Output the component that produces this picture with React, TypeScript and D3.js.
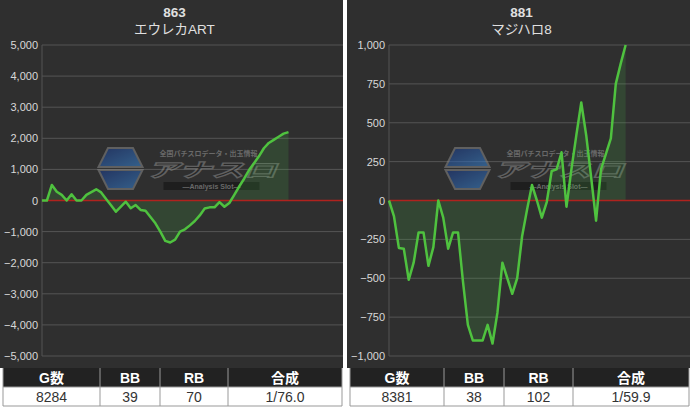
import React from "react";
import * as d3 from "d3";

const W = 690;
const H = 409;

const leftTitleNo = "863";
const leftTitleName = "エウレカART";
const rightTitleNo = "881";
const rightTitleName = "マジハロ8";

const leftTicks = [5000, 4000, 3000, 2000, 1000, 0, -1000, -2000, -3000, -4000, -5000];
const rightTicks = [1000, 750, 500, 250, 0, -250, -500, -750, -1000];

const leftValues = [
  0, 0, 500, 280, 180, 0, 200, 0, 0, 180, 270, 360, 260, 50, -150, -360, -200, -40, -250, -145,
  -305, -330, -530, -735, -1000, -1300, -1350, -1260, -1000, -926, -800, -660, -480, -260, -220,
  -220, -50, -200, -80, 180, 450, 700, 980, 1200, 1420, 1680, 1850, 1950, 2050, 2150, 2200,
];

const rightValues = [
  0, -100, -305, -310, -510, -400, -205, -205, -420, -300, 0, -110, -310, -205, -205, -520, -800,
  -900, -900, -900, -800, -920, -720, -400, -500, -600, -500, -230, -60, 100, 0, -110, -10, 190,
  200, 310, -40, 200, 420, 630, 420, 150, -130, 200, 300, 400, 750, 880, 1000,
];

const tableHeaders = ["G数", "BB", "RB", "合成"];
const leftStats = ["8284", "39", "70", "1/76.0"];
const rightStats = ["8381", "38", "102", "1/59.9"];

const FONT = "'Liberation Sans', Arial, 'Noto Sans CJK JP', sans-serif";
const BG = "#2f2f2f";

const fmt = d3.format(",");

type PanelProps = {
  x0: number;
  x1: number;
  titleNo: string;
  titleName: string;
  ticks: number[];
  values: number[];
  stats: string[];
  colSplits: number[];
  gid: string;
};

function Logo({ cx, cy, gid }: { cx: number; cy: number; gid: string }) {
  const hx = cx - 98;
  const hex = (x: number, y: number, w: number, h: number) =>
    `M${x + h * 0.5},${y} L${x + w - h * 0.5},${y} L${x + w},${y + h} L${x},${y + h} Z`;
  return (
    <g opacity={0.55}>
      <defs>
        <linearGradient id={gid} x1="0" y1="0" x2="1" y2="1">
          <stop offset="0" stopColor="#1a3a8a" />
          <stop offset="1" stopColor="#3a8ad8" />
        </linearGradient>
      </defs>
      <path d={hex(hx, cy - 21, 44, 19)} fill={`url(#${gid})`} stroke="#888" strokeWidth={2} />
      <path
        d={`M${hx},${cy + 1} L${hx + 44},${cy + 1} L${hx + 34.5},${cy + 20} L${hx + 9.5},${cy + 20} Z`}
        fill={`url(#${gid})`}
        stroke="#888"
        strokeWidth={2}
      />
      <text x={cx + 12} y={cy - 13} fontSize={7} fill="#999" fontFamily={FONT} textAnchor="middle" fontWeight="bold">
        全国パチスロデータ・出玉情報
      </text>
      <text
        x={cx - 50}
        y={cy + 8}
        fontSize={19}
        fill="#222"
        stroke="#888"
        strokeWidth={1.2}
        fontFamily={FONT}
        fontStyle="italic"
        fontWeight="bold"
        textLength={130}
        lengthAdjust="spacingAndGlyphs"
      >
        アナスロ
      </text>
      <rect x={cx - 33} y={cy + 13} width={96} height={8} fill="#111" />
      <text x={cx + 15} y={cy + 20} fontSize={7} fill="#999" fontFamily={FONT} textAnchor="middle" fontWeight="bold">
        —Analysis Slot—
      </text>
    </g>
  );
}

function Panel({ x0, x1, titleNo, titleName, ticks, values, stats, colSplits, gid }: PanelProps) {
  const plotL = x0 + 42;
  const plotR = x1;
  const top = 45;
  const bottom = 356;
  const yMax = d3.max(ticks) as number;
  const yMin = d3.min(ticks) as number;
  const y = d3.scaleLinear().domain([yMin, yMax]).range([bottom, top]);
  const x = d3.scaleLinear().domain([0, (plotR - plotL) / 4.93]).range([plotL, plotR]);
  const pts = values.map((v, i) => [i, v] as [number, number]);
  const line = d3
    .line<[number, number]>()
    .x((d) => x(d[0]))
    .y((d) => y(d[1]));
  const area = d3
    .area<[number, number]>()
    .x((d) => x(d[0]))
    .y0(y(0))
    .y1((d) => y(d[1]));

  const tTop = 368;
  const tMid = 387;
  const tBot = 406;
  const cols = [x0 + 3, ...colSplits, x1 - 1];

  return (
    <g>
      <rect x={x0} y={0} width={x1 - x0} height={tTop} fill={BG} />
      <text x={(x0 + x1) / 2 + 3} y={17} fill="#e0e0e0" fontSize={13.5} fontWeight="bold" textAnchor="middle" fontFamily={FONT}>
        {titleNo}
      </text>
      <text x={(x0 + x1) / 2 + 3} y={34} fill="#e0e0e0" fontSize={13.5} textAnchor="middle" fontFamily={FONT}>
        {titleName}
      </text>
      {ticks.map((t) => (
        <g key={t}>
          <line x1={plotL} x2={plotR} y1={y(t)} y2={y(t)} stroke="#555" strokeWidth={1} />
          <text
            x={plotL - 4}
            y={y(t) + 4}
            fill="#d8d8d8"
            fontSize={11}
            textAnchor="end"
            fontFamily={FONT}
          >
            {fmt(t)}
          </text>
        </g>
      ))}
      <line x1={plotL} x2={plotL} y1={top} y2={bottom} stroke="#555" strokeWidth={1} />
      <Logo cx={(x0 + x1) / 2 + 25} cy={169} gid={gid} />
      <path d={area(pts) || ""} fill="rgba(70,180,70,0.18)" />
      <line x1={plotL} x2={plotR} y1={y(0)} y2={y(0)} stroke="#b0221e" strokeWidth={1.5} />
      <path d={line(pts) || ""} fill="none" stroke="#4fc23f" strokeWidth={2.5} strokeLinejoin="round" />
      <rect x={cols[0]} y={tTop} width={cols[cols.length - 1] - cols[0]} height={tMid - tTop} fill="#222" />
      <rect x={cols[0]} y={tMid} width={cols[cols.length - 1] - cols[0]} height={tBot - tMid} fill="#fff" />
      {tableHeaders.map((h, i) => (
        <text
          key={h}
          x={(cols[i] + cols[i + 1]) / 2}
          y={tMid - 4}
          fill="#fff"
          fontSize={14}
          fontWeight="bold"
          textAnchor="middle"
          fontFamily={FONT}
        >
          {h}
        </text>
      ))}
      {stats.map((s, i) => (
        <text
          key={i}
          x={(cols[i] + cols[i + 1]) / 2}
          y={tBot - 4}
          fill="#333"
          fontSize={14}
          textAnchor="middle"
          fontFamily={FONT}
        >
          {s}
        </text>
      ))}
      {cols.map((c, i) => (
        <line key={i} x1={c} x2={c} y1={tTop} y2={tBot} stroke="#999" strokeWidth={1} />
      ))}
      <line x1={cols[0]} x2={cols[cols.length - 1]} y1={tMid} y2={tMid} stroke="#999" />
      <line x1={cols[0]} x2={cols[cols.length - 1]} y1={tBot} y2={tBot} stroke="#999" />
    </g>
  );
}

export default function App() {
  return (
    <svg
      width={W}
      height={H}
      style={{ position: "absolute", left: 0, top: 0, background: "#fff" }}
    >
      <Panel
        x0={0}
        x1={343}
        titleNo={leftTitleNo}
        titleName={leftTitleName}
        ticks={leftTicks}
        values={leftValues}
        stats={leftStats}
        colSplits={[100, 160, 228]}
        gid="lgL"
      />
      <Panel
        x0={347}
        x1={690}
        titleNo={rightTitleNo}
        titleName={rightTitleName}
        ticks={rightTicks}
        values={rightValues}
        stats={rightStats}
        colSplits={[444, 504, 573]}
        gid="lgR"
      />
    </svg>
  );
}
